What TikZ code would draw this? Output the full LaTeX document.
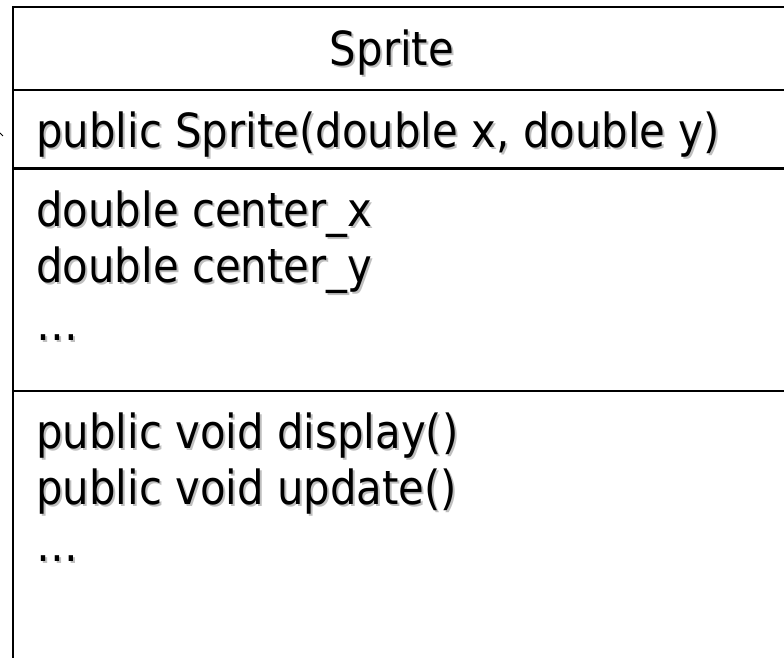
\documentclass[tikz,border=0pt]{standalone}
\usepackage{fontspec}
\setmainfont{DejaVu Sans}[FakeStretch=0.89]
\newcommand\shd[1]{\leavevmode\rlap{\kern2pt\raisebox{-2pt}{\textcolor{black!25}{#1}}}#1}
\begin{document}
\begin{tikzpicture}[x=1pt,y=-1pt,
  txt/.style={anchor=base west,inner sep=0pt,font=\fontsize{47}{56}\selectfont},
  ttl/.style={anchor=base,inner sep=0pt,font=\fontsize{47}{56}\selectfont},
  frame/.style={line width=2.2pt,black}]
\useasboundingbox (0,0) rectangle (784,658);
\clip (0,0) rectangle (784,658);
% class box (cut off at right and bottom)
\draw[frame] (13,7) rectangle (830,720);
\draw[frame] (13,90) -- (830,90);
\draw[frame] (13,168.5) -- (830,168.5);
\draw[frame] (13,391) -- (830,391);
% texts
\node[ttl] (name) at (392,66) {\shd{Sprite}};
\node[txt] (ctor) at (36,147) {\shd{public Sprite(double x, double y)}};
\node[txt] (attr1) at (36,226) {\shd{double center\_x}};
\node[txt] (attr2) at (36,282) {\shd{double center\_y}};
\node[txt] (attr3) at (36,340) {\shd{\ldots}};
\node[txt] (meth1) at (36,448) {\shd{public void display()}};
\node[txt] (meth2) at (36,504) {\shd{public void update()}};
\node[txt] (meth3) at (36,561) {\shd{\ldots}};
% small mark at the left edge
\coordinate (m1) at (0,133);
\coordinate (m2) at (3,136);
\draw[line width=1pt] (m1) -- (m2);
\end{tikzpicture}
\end{document}
